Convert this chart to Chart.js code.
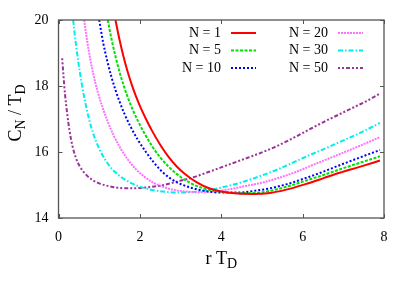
<!DOCTYPE html>
<html><head><meta charset="utf-8">
<script src="https://cdn.jsdelivr.net/npm/chart.js@4"></script>
<style>html,body{margin:0;padding:0;background:#fff}#c{display:block}</style>
</head><body>
<canvas id="c" width="415" height="291"></canvas>
<script>
// ---- data ----
const seriesLabels = ['N = 1', 'N = 5', 'N = 10', 'N = 20', 'N = 30', 'N = 50'];

const xN1 = [1.40, 1.50, 1.60, 1.70, 1.80, 1.90, 2.00, 2.15, 2.30, 2.50, 2.70, 2.90, 3.10, 3.40, 3.70, 4.00, 4.40, 4.80, 5.20, 5.60, 6.05, 6.50, 6.91, 7.40, 7.90];
const yN1 = [20.0, 19.4, 18.88, 18.43, 18.04, 17.70, 17.40, 17.0, 16.64, 16.22, 15.86, 15.57, 15.34, 15.08, 14.90, 14.80, 14.74, 14.73, 14.76, 14.86, 15.02, 15.20, 15.37, 15.55, 15.74];

const xN5 = [1.21, 1.31, 1.41, 1.51, 1.61, 1.71, 1.81, 1.96, 2.11, 2.31, 2.51, 2.71, 2.91, 3.21, 3.51, 3.81, 4.20, 4.60, 5.00, 5.40, 5.80, 6.20, 6.60, 7.00, 7.45, 7.90];
const yN5 = [20.0, 19.38, 18.85, 18.38, 17.98, 17.63, 17.32, 16.92, 16.57, 16.16, 15.82, 15.55, 15.33, 15.08, 14.92, 14.83, 14.77, 14.75, 14.78, 14.88, 15.02, 15.18, 15.34, 15.51, 15.69, 15.87];

const xN10 = [1.00, 1.10, 1.20, 1.30, 1.40, 1.50, 1.62, 1.77, 1.95, 2.15, 2.35, 2.55, 2.75, 3.00, 3.30, 3.60, 4.00, 4.40, 4.80, 5.20, 5.60, 6.05, 6.50, 6.91, 7.40, 7.90];
const yN10 = [20.0, 19.3, 18.75, 18.28, 17.88, 17.53, 17.16, 16.77, 16.37, 16.0, 15.67, 15.40, 15.20, 15.03, 14.90, 14.82, 14.77, 14.77, 14.82, 14.90, 15.02, 15.20, 15.40, 15.60, 15.83, 16.06];

const xN20 = [0.63, 0.70, 0.78, 0.87, 0.97, 1.08, 1.20, 1.35, 1.52, 1.70, 1.90, 2.10, 2.35, 2.60, 2.85, 3.15, 3.45, 3.80, 4.20, 4.60, 5.00, 5.40, 5.80, 6.20, 6.60, 7.00, 7.45, 7.90];
const yN20 = [20.0, 19.4, 18.82, 18.28, 17.80, 17.36, 16.95, 16.52, 16.12, 15.78, 15.48, 15.26, 15.06, 14.93, 14.85, 14.80, 14.78, 14.80, 14.87, 14.97, 15.07, 15.21, 15.38, 15.58, 15.78, 15.98, 16.21, 16.45];

const xN30 = [0.36, 0.42, 0.49, 0.57, 0.65, 0.75, 0.87, 1.00, 1.15, 1.32, 1.52, 1.75, 2.00, 2.30, 2.65, 3.00, 3.40, 3.80, 4.20, 4.60, 5.00, 5.40, 5.80, 6.20, 6.60, 7.00, 7.45, 7.90];
const yN30 = [20.0, 19.35, 18.7, 18.08, 17.55, 17.0, 16.5, 16.1, 15.76, 15.48, 15.26, 15.08, 14.95, 14.85, 14.79, 14.77, 14.80, 14.87, 14.98, 15.12, 15.29, 15.48, 15.70, 15.92, 16.13, 16.35, 16.60, 16.88];

const xN50 = [0.09, 0.12, 0.16, 0.21, 0.27, 0.34, 0.42, 0.52, 0.65, 0.80, 1.00, 1.25, 1.50, 1.80, 2.10, 2.50, 2.90, 3.30, 3.70, 4.10, 4.50, 4.90, 5.30, 5.70, 6.10, 6.50, 6.90, 7.30, 7.60, 7.90];
const yN50 = [18.84, 18.35, 17.75, 17.2, 16.65, 16.2, 15.85, 15.57, 15.35, 15.18, 15.05, 14.96, 14.91, 14.90, 14.92, 14.98, 15.10, 15.23, 15.40, 15.58, 15.76, 15.94, 16.14, 16.38, 16.64, 16.90, 17.14, 17.38, 17.56, 17.77];

const xTicks = [0, 2, 4, 6, 8];
const yTicks = [14, 16, 18, 20];

// ---- styles ----
const colors = ['#ff0000', '#00e000', '#0000ff', '#ff70ff', '#00eeee', '#993399'];
const dashes = [[], [3, 1.5], [2, 2], [2, 1], [5, 2, 1.5, 2], [2, 2, 2, 2, 4, 2]];
const SERIF = '"Liberation Serif", "DejaVu Serif", serif';

const xs = [xN1, xN5, xN10, xN20, xN30, xN50];
const ys = [yN1, yN5, yN10, yN20, yN30, yN50];

const datasets = seriesLabels.map((lab, k) => ({
  label: lab,
  data: xs[k].map((x, i) => ({ x: x, y: ys[k][i] })),
  showLine: true,
  borderColor: colors[k],
  backgroundColor: colors[k],
  borderWidth: 2,
  borderDash: dashes[k],
  pointRadius: 0,
  cubicInterpolationMode: 'monotone',
  fill: false
}));

const framePlugin = {
  id: 'frame',
  afterDatasetsDraw(chart) {
    const { ctx, chartArea: a, scales } = chart;
    ctx.save();
    ctx.strokeStyle = '#555';
    ctx.lineWidth = 1.3;
    ctx.strokeRect(a.left, a.top, a.right - a.left, a.bottom - a.top);
    ctx.lineWidth = 1;
    const tl = 4;
    xTicks.forEach(v => {
      const px = Math.round(scales.x.getPixelForValue(v)) + 0.5;
      ctx.beginPath();
      ctx.moveTo(px, a.bottom); ctx.lineTo(px, a.bottom - tl);
      ctx.moveTo(px, a.top); ctx.lineTo(px, a.top + tl);
      ctx.stroke();
    });
    yTicks.forEach(v => {
      const py = Math.round(scales.y.getPixelForValue(v)) + 0.5;
      ctx.beginPath();
      ctx.moveTo(a.left, py); ctx.lineTo(a.left + tl, py);
      ctx.moveTo(a.right, py); ctx.lineTo(a.right - tl, py);
      ctx.stroke();
    });

    // legend (inside plot, two columns)
    ctx.font = '14px ' + SERIF;
    ctx.fillStyle = '#000';
    ctx.textBaseline = 'middle';
    ctx.textAlign = 'right';
    const rows = [33, 50.5, 68];
    chart.data.datasets.forEach((ds, k) => {
      const col = Math.floor(k / 3), row = k % 3;
      const textRight = col === 0 ? 221 : 328;
      const lx0 = col === 0 ? 231 : 338;
      const y = rows[row];
      ctx.fillText(ds.label, textRight, y);
      ctx.save();
      ctx.strokeStyle = ds.borderColor;
      ctx.lineWidth = 2;
      ctx.setLineDash(ds.borderDash);
      ctx.beginPath();
      ctx.moveTo(lx0, y); ctx.lineTo(lx0 + 25, y);
      ctx.stroke();
      ctx.restore();
    });

    // axis titles with subscripts
    ctx.fillStyle = '#000';
    ctx.textBaseline = 'alphabetic';
    ctx.textAlign = 'left';
    const big = '18px ' + SERIF, sub = '14px ' + SERIF;
    function runs(parts) {
      let w = 0;
      parts.forEach(p => { ctx.font = p[1] ? sub : big; w += ctx.measureText(p[0]).width; });
      return w;
    }
    function drawRuns(parts, x, y) {
      parts.forEach(p => {
        ctx.font = p[1] ? sub : big;
        ctx.fillText(p[0], x, y + (p[1] ? 4 : 0));
        x += ctx.measureText(p[0]).width;
      });
    }
    const xt = [['r T', 0], ['D', 1]];
    const cx = (a.left + a.right) / 2;
    drawRuns(xt, cx - runs(xt) / 2, 264);
    const yt = [['C', 0], ['N', 1], [' / T', 0], ['D', 1]];
    ctx.save();
    ctx.translate(21, (a.top + a.bottom) / 2 - 6);
    ctx.rotate(-Math.PI / 2);
    drawRuns(yt, -runs(yt) / 2, 0);
    ctx.restore();
    ctx.restore();
  }
};

new Chart(document.getElementById('c'), {
  type: 'scatter',
  data: { datasets: datasets },
  options: {
    responsive: false,
    animation: false,
    devicePixelRatio: 1,
    layout: { padding: { top: 20, right: 31, left: 0, bottom: 0 } },
    plugins: { legend: { display: false }, tooltip: { enabled: false } },
    scales: {
      x: {
        type: 'linear', min: 0, max: 8,
        afterFit(s) { s.height = 73; },
        afterBuildTicks(s) { s.ticks = xTicks.map(v => ({ value: v })); },
        grid: { display: false, drawTicks: false },
        border: { display: false },
        ticks: { padding: 11, color: '#000', font: { family: SERIF, size: 14 } }
      },
      y: {
        type: 'linear', min: 14, max: 20,
        afterFit(s) { s.width = 58.5; },
        afterBuildTicks(s) { s.ticks = yTicks.map(v => ({ value: v })); },
        grid: { display: false, drawTicks: false },
        border: { display: false },
        ticks: { padding: 10, color: '#000', font: { family: SERIF, size: 14 } }
      }
    }
  },
  plugins: [framePlugin]
});
</script>
</body></html>
